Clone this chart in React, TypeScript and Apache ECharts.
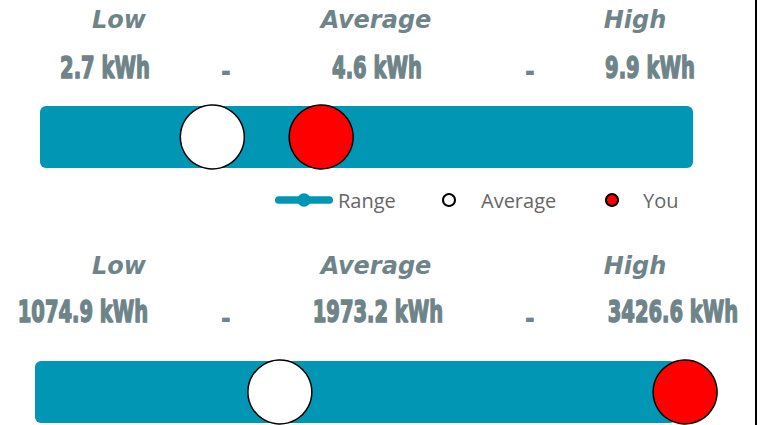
import React, { useEffect, useRef } from "react";
import * as echarts from "echarts";

// ---- data ----
const headerLabels = ["Low", "Average", "High"];
const lowValues = [2.7, 1074.9];
const avgValues = [4.6, 1973.2];
const highValues = [9.9, 3426.6];
const youValues = [5.8, 3460];
const unitLabel = "kWh";
const legendNames = ["Range", "Average", "You"];

// ---- layout / style ----
const W = 767;
const H = 425;
const TEAL = "#0096b4";
const TXT = "#6e8489";
const panels = [
  { headerY: 20, valueY: 67, dashY: 72, barTop: 106, left: 40, right: 74, valueX: [105, 377, 650] },
  { headerY: 266, valueY: 311.5, dashY: 319, barTop: 361, left: 35, right: 91, valueX: [83, 378, 673] },
];
const headerX = [119, 376, 635];
const dashX = [226, 530];
const BAR_H = 62;

function fmt(v: number) {
  return `${v.toFixed(1)} ${unitLabel}`;
}

export default function App() {
  const ref = useRef<HTMLDivElement>(null);
  useEffect(() => {
    if (!ref.current) return;
    const chart = echarts.init(ref.current, null, { renderer: "svg" });

    const grids: any[] = [];
    const xAxes: any[] = [];
    const yAxes: any[] = [];
    const series: any[] = [];
    const graphics: any[] = [];

    panels.forEach((p, i) => {
      grids.push({ left: p.left, right: p.right, top: p.barTop, height: BAR_H });
      xAxes.push({ type: "value", gridIndex: i, min: lowValues[i], max: highValues[i], show: false });
      yAxes.push({ type: "category", gridIndex: i, data: ["r"], show: false });
      series.push({
        type: "custom",
        name: legendNames[0],
        xAxisIndex: i,
        yAxisIndex: i,
        data: [[lowValues[i], highValues[i], 0]],
        itemStyle: { color: TEAL },
        clip: false,
        renderItem: (params: any, api: any) => {
          const s = api.coord([api.value(0), 0]);
          const e = api.coord([api.value(1), 0]);
          const h = api.size([0, 1])[1];
          return {
            type: "rect",
            shape: { x: s[0], y: s[1] - h / 2, width: e[0] - s[0], height: h, r: 6 },
            style: { fill: TEAL },
          };
        },
        z: 1,
      });
      series.push({
        type: "scatter",
        name: legendNames[1],
        xAxisIndex: i,
        yAxisIndex: i,
        data: [[avgValues[i], 0]],
        symbol: "circle",
        symbolSize: 64,
        clip: false,
        itemStyle: { color: "#ffffff", borderColor: "#000000", borderWidth: 1.5, opacity: 1 },
        z: 3,
      });
      series.push({
        type: "scatter",
        name: legendNames[2],
        xAxisIndex: i,
        yAxisIndex: i,
        data: [[youValues[i], 0]],
        symbol: "circle",
        symbolSize: 64,
        clip: false,
        itemStyle: { color: "#ff0000", borderColor: "#000000", borderWidth: 1.5, opacity: 1 },
        z: 3,
      });

      headerLabels.forEach((t, k) => {
        graphics.push({
          type: "text",
          x: headerX[k],
          y: p.headerY,
          style: {
            text: t,
            x: 0,
            y: 0,
            fill: TXT,
            font: "italic bold 24px 'DejaVu Sans'",
            textAlign: "center",
            textVerticalAlign: "middle",
          },
        });
      });
      const vals = [lowValues[i], avgValues[i], highValues[i]];
      vals.forEach((v, k) => {
        graphics.push({
          type: "text",
          x: p.valueX[k],
          y: p.valueY,
          scaleX: 0.63,
          style: {
            text: fmt(v),
            x: 0,
            y: 0,
            fill: TXT,
            stroke: TXT,
            lineWidth: 1.6,
            font: "bold 31px 'DejaVu Sans'",
            textAlign: "center",
            textVerticalAlign: "middle",
          },
        });
      });
      dashX.forEach((dx) => {
        graphics.push({
          type: "text",
          x: dx,
          y: p.dashY,
          scaleX: 0.8,
          style: {
            text: "-",
            x: 0,
            y: 0,
            fill: TXT,
            font: "bold 31px 'DejaVu Sans'",
            textAlign: "center",
            textVerticalAlign: "middle",
          },
        });
      });
    });

    graphics.push({
      type: "line",
      shape: { x1: 756, y1: 0, x2: 756, y2: H },
      style: { stroke: "#000000", lineWidth: 2 },
    });

    const legendText = { color: "#666666", fontSize: 20, fontFamily: "'Open Sans'" };
    const rangeIcon =
      "path://M4,3 H56 A4,4 0 0 1 56,11 H4 A4,4 0 0 1 4,3 Z M23,7 A7,7 0 1 1 37,7 A7,7 0 1 1 23,7 Z";

    chart.setOption({
      animation: false,
      grid: grids,
      xAxis: xAxes,
      yAxis: yAxes,
      series,
      graphic: graphics,
      legend: [
        {
          data: [{ name: legendNames[0], icon: rangeIcon }],
          left: 275,
          top: 190,
          itemWidth: 58,
          itemHeight: 14,
          padding: 0,
          textStyle: legendText,
          selectedMode: false,
        },
        {
          data: [legendNames[1]],
          left: 442,
          top: 190,
          itemWidth: 12,
          itemHeight: 12,
          padding: 0,
          textStyle: { ...legendText, padding: [0, 0, 0, 21] },
          selectedMode: false,
        },
        {
          data: [legendNames[2]],
          left: 605,
          top: 190,
          itemWidth: 12,
          itemHeight: 12,
          padding: 0,
          textStyle: { ...legendText, padding: [0, 0, 0, 20] },
          selectedMode: false,
        },
      ],
    });
    return () => chart.dispose();
  }, []);
  return <div ref={ref} style={{ width: W, height: H, position: "absolute", left: 0, top: 0 }} />;
}
